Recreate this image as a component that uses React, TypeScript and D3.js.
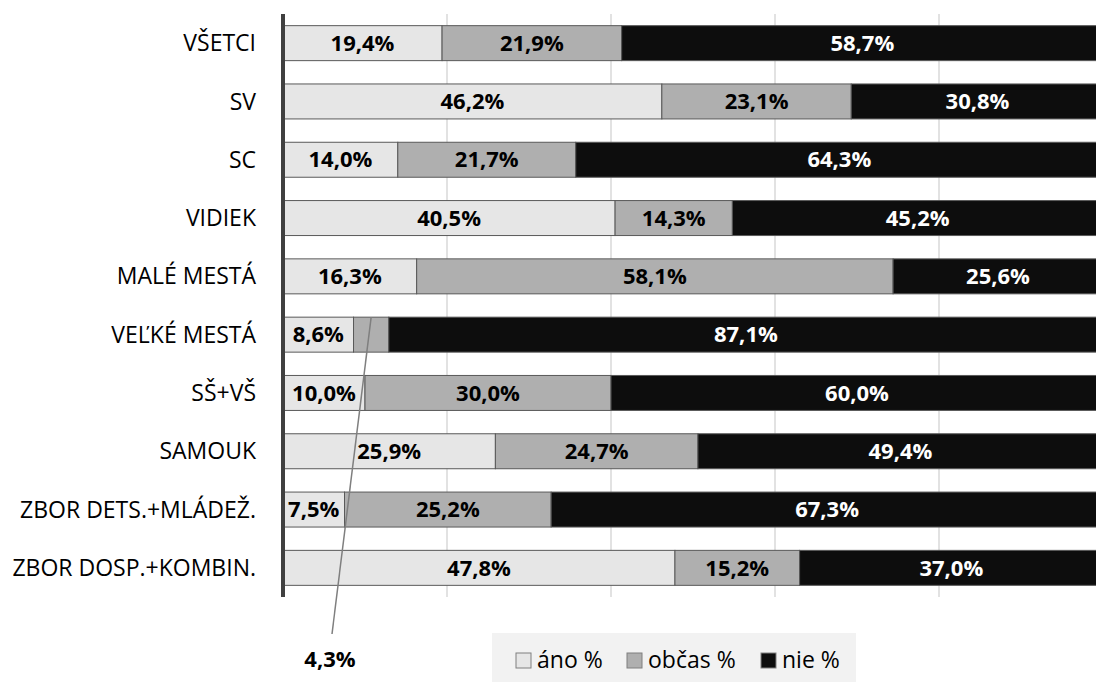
import React from "react";
import * as d3 from "d3";

const categories = [
  "VŠETCI",
  "SV",
  "SC",
  "VIDIEK",
  "MALÉ MESTÁ",
  "VEĽKÉ MESTÁ",
  "SŠ+VŠ",
  "SAMOUK",
  "ZBOR DETS.+MLÁDEŽ.",
  "ZBOR DOSP.+KOMBIN.",
];
const ano = [19.4, 46.2, 14.0, 40.5, 16.3, 8.6, 10.0, 25.9, 7.5, 47.8];
const obcas = [21.9, 23.1, 21.7, 14.3, 58.1, 4.3, 30.0, 24.7, 25.2, 15.2];
const nie = [58.7, 30.8, 64.3, 45.2, 25.6, 87.1, 60.0, 49.4, 67.3, 37.0];
const seriesNames = ["áno %", "občas %", "nie %"];
const gridTicks = [20, 40, 60, 80];

const colors = ["#e6e6e6", "#afafaf", "#0d0d0d"];
const textColors = ["#000", "#000", "#fff"];
const FONT = "'Open Sans', sans-serif";

const fmt = (v: number) => v.toFixed(1).replace(".", ",") + "%";

export default function App() {
  const W = 1096;
  const H = 682;
  const x = d3.scaleLinear().domain([0, 100]).range([283, 1103]);
  const y = d3
    .scaleBand<string>()
    .domain(categories)
    .range([14, 597])
    .paddingInner(0.4)
    .paddingOuter(0.2);

  const series = [ano, obcas, nie];
  const rows = categories.map((c, i) => {
    let acc = 0;
    return series.map((s, k) => {
      const v = s[i];
      const seg = { c, k, v, x0: acc, x1: acc + v };
      acc += v;
      return seg;
    });
  });

  const calloutRow = 5;
  const calloutSeg = rows[calloutRow][1];
  const cx = x((calloutSeg.x0 + calloutSeg.x1) / 2);
  const cyTop = y(categories[calloutRow])!;

  const legendX = [516, 627, 761];

  return (
    <svg
      width={W}
      height={H}
      style={{ position: "absolute", left: 0, top: 0, background: "#fff" }}
    >
      {gridTicks.map((t) => (
        <line
          key={t}
          x1={x(t)}
          x2={x(t)}
          y1={14}
          y2={597}
          stroke="#d9d9d9"
          strokeWidth={1.5}
        />
      ))}
      {rows.map((row, i) =>
        row.map((seg) => (
          <rect
            key={i + "-" + seg.k}
            x={x(seg.x0)}
            y={y(seg.c)!}
            width={x(seg.x1) - x(seg.x0)}
            height={y.bandwidth()}
            fill={colors[seg.k]}
            stroke="#595959"
            strokeWidth={1}
          />
        ))
      )}
      <rect x={281} y={14} width={4} height={583} fill="#404040" />
      {categories.map((c) => (
        <text
          key={c}
          x={256}
          y={y(c)! + y.bandwidth() / 2}
          dy="0.35em"
          textAnchor="end"
          fontFamily={FONT}
          fontSize={23}
          fill="#000"
        >
          {c}
        </text>
      ))}
      {rows.map((row, i) =>
        row.map((seg) =>
          i === calloutRow && seg.k === 1 ? null : (
            <text
              key={"l" + i + "-" + seg.k}
              x={x((seg.x0 + seg.x1) / 2)}
              y={y(seg.c)! + y.bandwidth() / 2}
              dy="0.35em"
              textAnchor="middle"
              fontFamily={FONT}
              fontWeight="bold"
              fontSize={22}
              fill={textColors[seg.k]}
            >
              {fmt(seg.v)}
            </text>
          )
        )
      )}
      <line
        x1={cx}
        y1={cyTop}
        x2={332}
        y2={634}
        stroke="#7f7f7f"
        strokeWidth={1.5}
      />
      <text
        x={330}
        y={659}
        dy="0.35em"
        textAnchor="middle"
        fontFamily={FONT}
        fontWeight="bold"
        fontSize={22}
        fill="#000"
      >
        {fmt(calloutSeg.v)}
      </text>
      <rect x={492} y={633} width={364} height={49} fill="#f2f2f2" />
      {seriesNames.map((n, k) => (
        <g key={n}>
          <rect
            x={legendX[k]}
            y={653}
            width={15}
            height={15}
            fill={colors[k]}
            stroke="#7f7f7f"
            strokeWidth={1}
          />
          <text
            x={legendX[k] + 21}
            y={660}
            dy="0.35em"
            fontFamily={FONT}
            fontSize={23}
            fill="#000"
          >
            {n}
          </text>
        </g>
      ))}
    </svg>
  );
}
